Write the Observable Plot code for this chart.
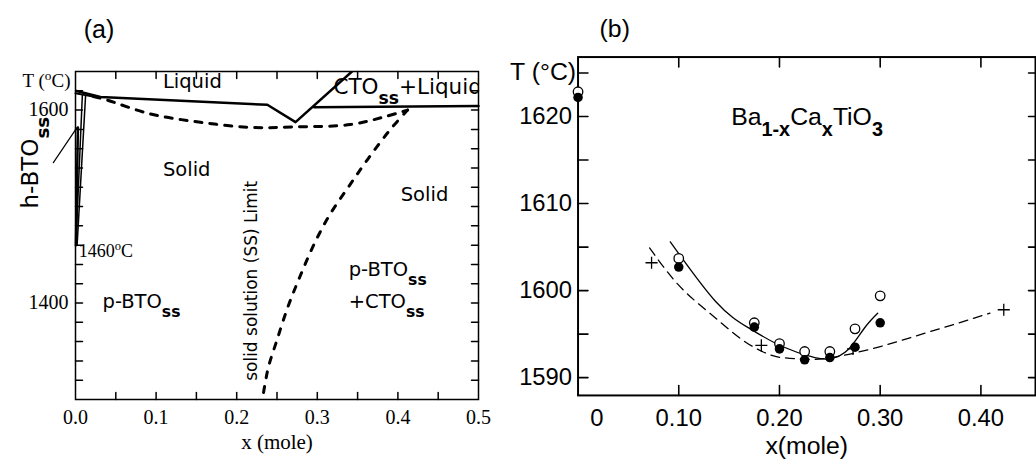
<!DOCTYPE html>
<html><head><meta charset="utf-8">
<script src="https://cdn.jsdelivr.net/npm/d3@7"></script>
<script src="https://cdn.jsdelivr.net/npm/@observablehq/plot@0.6"></script>
<style>
html,body{margin:0;padding:0;background:#fff;overflow:hidden;width:1036px;height:463px}
#a{position:absolute;left:0;top:0}
#b{position:absolute;left:518px;top:0}
</style></head><body>
<div id="a"></div><div id="b"></div>
<script>
// ---------- Panel (a): phase diagram ----------
const xTicksA = [0, 0.1, 0.2, 0.3, 0.4, 0.5];
const xMinorA = [0.05, 0.1, 0.15, 0.2, 0.25, 0.3, 0.35, 0.4, 0.45];
const yTicksA = [1400, 1600];
const yMinorA = [1320, 1340, 1360, 1380, 1400, 1420, 1440, 1460, 1480, 1500, 1520, 1540, 1560, 1580, 1600, 1620];

const liquidusX = [0, 0.031, 0.238, 0.273, 0.343];
const liquidusT = [1620, 1613.6, 1605.5, 1587.5, 1640];
const eutecticX = [0.296, 0.5];
const eutecticT = [1603, 1604.3];
const solidusX = [0.022, 0.035, 0.093, 0.155, 0.217, 0.27, 0.341, 0.382, 0.412];
const solidusT = [1614, 1611.5, 1596, 1587.4, 1582, 1582.5, 1585, 1592.7, 1600];
const solvusX = [0.412, 0.3908, 0.3623, 0.3387, 0.3151, 0.2953, 0.2779, 0.263, 0.2494, 0.2395, 0.2345, 0.232];
const solvusT = [1600, 1580.1, 1548.7, 1520.4, 1491.1, 1459.7, 1426.2, 1394.8, 1360.2, 1334, 1313.1, 1300];
const hLensX = [0, 0.012, 0.025];
const hLensT = [1617.5, 1615.5, 1613.5];
const hSolAX = [0.0125, 0.002];
const hSolAT = [1615, 1460];
const hSolBX = [0.0085, 0.0005];
const hSolBT = [1615.5, 1460];
const hThickX = [0.003, 0.0005];
const hThickT = [1582, 1460];
const pointerX = [-0.0275, 0.002];
const pointerT = [1545.5, 1582];

const labelsMidA = [
  {text: "Liquid", x: 0.145, T: 1629},
  {text: "Solid", x: 0.138, T: 1538},
  {text: "Solid", x: 0.433, T: 1512}
];
const labelsStartA = [
  {text: "p-BTO_{ss}", x: 0.0335, T: 1401},
  {text: "p-BTO_{ss}", x: 0.339, T: 1434},
  {text: "+CTO_{ss}", x: 0.339, T: 1401}
];

// ---------- Panel (b): Ba1-xCaxTiO3 ----------
const xTicksB = [0.1, 0.2, 0.3, 0.4];
const yTicksB = [1590, 1600, 1610, 1620];
const yMinorB = [1590, 1595, 1600, 1605, 1610, 1615, 1620, 1625];
const xCircB = [0, 0.10, 0.175, 0.20, 0.225, 0.25, 0.275, 0.30];
const openT = [1622.85, 1603.7, 1596.3, 1593.9, 1593.0, 1593.0, 1595.6, 1599.4];
const filledT = [1622.2, 1602.7, 1595.8, 1593.3, 1592.05, 1592.3, 1593.5, 1596.3];
const crossX = [0.073, 0.182, 0.273, 0.4227];
const crossT = [1603.2, 1593.7, 1593.3, 1597.8];
const fitX = [0.0916, 0.1366, 0.1695, 0.2023, 0.2351, 0.2516, 0.268, 0.2844, 0.2975];
const fitT = [1605.6, 1598.75, 1595.7, 1593.6, 1592.3, 1592.2, 1593.2, 1595.7, 1597.4];
const dashX = [0.071, 0.094, 0.137, 0.173, 0.202, 0.235, 0.2516, 0.2844, 0.35, 0.409];
const dashT = [1604.9, 1601.4, 1596.8, 1593.6, 1592.3, 1592.1, 1592.3, 1593.1, 1595.3, 1597.4];

const zip = (xs, ts) => xs.map((x, i) => ({x, T: ts[i]}));

// convert _{..} and ^{..} markup into sub/superscript tspans
function richify(svg) {
  d3.select(svg).selectAll("text").each(function () {
    const t = this.textContent;
    if (!/[_^]\{/.test(t)) return;
    const parts = t.split(/([_^]\{[^}]*\})/);
    const sel = d3.select(this);
    sel.text(null);
    for (const p of parts) {
      if (!p) continue;
      const m = p.match(/^([_^])\{(.*)\}$/);
      if (m) {
        sel.append("tspan")
          .attr("baseline-shift", m[1] === "_" ? "sub" : "super")
          .attr("font-size", m[1] === "_" ? "80%" : "70%")
          .attr("font-weight", m[1] === "_" ? "bold" : null)
          .text(m[2]);
      } else sel.append("tspan").text(p);
    }
  });
}

const sans = "DejaVu Sans";
const serif = "Liberation Serif";

// layout of the two frames (pixels)
const A = {w: 520, h: 463, l: 75, r: 42, t: 71, b: 64};
const aW = A.w - A.l - A.r, aH = A.h - A.t - A.b;
const B = {w: 522, h: 463, l: 60, r: 1, t: 57, b: 65};
const bW = B.w - B.l - B.r, bH = B.h - B.t - B.b;

const xDomA = [0, 0.5], yDomA = [1300, 1640];
const xDomB = [0, 0.4542], yDomB = [1587.95, 1626.84];

// inward tick segments on all four sides as two-point polylines, built from the tick arrays
function tickPts(xs, ys, xDom, yDom, w, h, lenX, lenY, lenYR) {
  const dy = lenX / h * (yDom[1] - yDom[0]);
  const dx = lenY / w * (xDom[1] - xDom[0]);
  const dxR = lenYR / w * (xDom[1] - xDom[0]);
  const pts = [];
  let id = 0;
  const seg = (x1, y1, x2, y2) => { id++; pts.push({id, x: x1, T: y1}, {id, x: x2, T: y2}); };
  for (const v of xs) {
    seg(v, yDom[0], v, yDom[0] + dy);
    seg(v, yDom[1], v, yDom[1] - dy);
  }
  for (const v of ys) {
    seg(xDom[0], v, xDom[0] + dx, v);
    seg(xDom[1], v, xDom[1] - dxR, v);
  }
  return pts;
}

const plotA = Plot.plot({
  width: A.w, height: A.h,
  marginLeft: A.l, marginRight: A.r, marginTop: A.t, marginBottom: A.b,
  x: {domain: xDomA},
  y: {domain: yDomA},
  style: {fontFamily: serif, fontSize: "20px", color: "#000", background: "#fff", overflow: "visible"},
  marks: [
    Plot.frame({strokeWidth: 1.5}),
    Plot.line(tickPts(xMinorA, yMinorA, xDomA, yDomA, aW, aH, 7, 7, 7), {x: "x", y: "T", z: "id", stroke: "black", strokeWidth: 1.5}),
    Plot.axisX({anchor: "bottom", ticks: xTicksA, tickSize: 0, tickPadding: 10, tickFormat: ".1f", label: null}),
    Plot.axisY({anchor: "left", ticks: yTicksA, tickSize: 0, tickPadding: 7, tickFormat: "d", label: null}),
    // phase boundaries
    Plot.line(zip(liquidusX, liquidusT), {x: "x", y: "T", strokeWidth: 2.5, clip: true}),
    Plot.line(zip(eutecticX, eutecticT), {x: "x", y: "T", strokeWidth: 2.5}),
    Plot.line(zip(solidusX, solidusT), {x: "x", y: "T", strokeWidth: 3, strokeDasharray: "7,8", curve: "catmull-rom"}),
    Plot.line(zip(solvusX, solvusT), {x: "x", y: "T", strokeWidth: 3, strokeDasharray: "6,9", curve: "catmull-rom"}),
    Plot.line(zip(hLensX, hLensT), {x: "x", y: "T", strokeWidth: 2}),
    Plot.line(zip(hSolAX, hSolAT), {x: "x", y: "T", strokeWidth: 1.5}),
    Plot.line(zip(hSolBX, hSolBT), {x: "x", y: "T", strokeWidth: 1.5}),
    Plot.line(zip(hThickX, hThickT), {x: "x", y: "T", strokeWidth: 2.5}),
    Plot.line(zip(pointerX, pointerT), {x: "x", y: "T", strokeWidth: 1.2}),
    // labels
    Plot.text(labelsMidA, {x: "x", y: "T", text: "text", fontFamily: sans, fontSize: 19.5}),
    Plot.text(labelsStartA, {x: "x", y: "T", text: "text", textAnchor: "start", fontFamily: sans, fontSize: 19.5}),
    Plot.text(["CTO_{ss}+Liquid"], {x: 0.32, y: 1624, text: d => d, textAnchor: "start", fontFamily: sans, fontSize: 21.5, clip: true}),
    Plot.text(["solid solution (SS) Limit"], {x: 0.218, y: 1423, text: d => d, rotate: -90, fontFamily: sans, fontSize: 17}),
    Plot.text(["1460^{o}C"], {x: 0.004, y: 1460, text: d => d, textAnchor: "start", dy: 6, fontFamily: serif, fontSize: 18}),
    Plot.text(["h-BTO_{ss}"], {x: -0.0555, y: 1545.5, text: d => d, rotate: -90, fontFamily: sans, fontSize: 23}),
    Plot.text(["T (^{o}C)"], {frameAnchor: "top-left", text: d => d, textAnchor: "end", lineAnchor: "middle", dx: -5, dy: 9, fontFamily: serif, fontSize: 19}),
    Plot.text(["x (mole)"], {frameAnchor: "bottom", text: d => d, lineAnchor: "middle", dy: 43, fontFamily: serif, fontSize: 21}),
    Plot.text(["(a)"], {frameAnchor: "top-left", text: d => d, textAnchor: "middle", lineAnchor: "middle", dx: 23.5, dy: -42, fontFamily: "Liberation Sans", fontSize: 25})
  ]
});
richify(plotA);
document.getElementById("a").append(plotA);

const plotB = Plot.plot({
  width: B.w, height: B.h,
  marginLeft: B.l, marginRight: B.r, marginTop: B.t, marginBottom: B.b,
  x: {domain: xDomB},
  y: {domain: yDomB},
  style: {fontFamily: "Liberation Sans", fontSize: "24px", color: "#000", background: "#fff", overflow: "visible"},
  marks: [
    Plot.frame({strokeWidth: 2}),
    Plot.line(tickPts(xTicksB, yMinorB, xDomB, yDomB, bW, bH, 10, 10, 7), {x: "x", y: "T", z: "id", stroke: "black", strokeWidth: 1.6}),
    Plot.axisX({anchor: "bottom", ticks: xTicksB, tickSize: 0, tickPadding: 14, tickFormat: ".2f", label: null}),
    Plot.axisY({anchor: "left", ticks: yTicksB, tickSize: 0, tickPadding: 6, tickFormat: "d", label: null}),
    Plot.text([0], {x: d => d, frameAnchor: "bottom", text: d => String(d), dx: 19, dy: 14, lineAnchor: "top", fontSize: 24}),
    Plot.line(zip(dashX, dashT), {x: "x", y: "T", strokeWidth: 1.3, strokeDasharray: "9,6", curve: "monotone-x"}),
    Plot.line(zip(fitX, fitT), {x: "x", y: "T", strokeWidth: 1.3, curve: "natural"}),
    Plot.dot(zip(xCircB, openT), {x: "x", y: "T", r: 4.8, fill: "white", stroke: "black", strokeWidth: 1.3}),
    Plot.dot(zip(xCircB, filledT), {x: "x", y: "T", r: 4.8, fill: "black"}),
    Plot.dot(zip(crossX, crossT), {x: "x", y: "T", symbol: "plus", r: 4, stroke: "black", strokeWidth: 1.3}),
    Plot.text(["Ba_{1-x}Ca_{x}TiO_{3}"], {x: 0.152, y: 1620, text: d => d, textAnchor: "start", fontSize: 25}),
    Plot.text(["T (°C)"], {frameAnchor: "top-left", text: d => d, textAnchor: "end", lineAnchor: "middle", dx: -2, dy: 15, fontSize: 25}),
    Plot.text(["x(mole)"], {frameAnchor: "bottom", text: d => d, lineAnchor: "middle", dy: 51, fontSize: 25}),
    Plot.text(["(b)"], {frameAnchor: "top-left", text: d => d, textAnchor: "middle", lineAnchor: "middle", dx: 37, dy: -28, fontSize: 25})
  ]
});
richify(plotB);
document.getElementById("b").append(plotB);
</script>
</body></html>
